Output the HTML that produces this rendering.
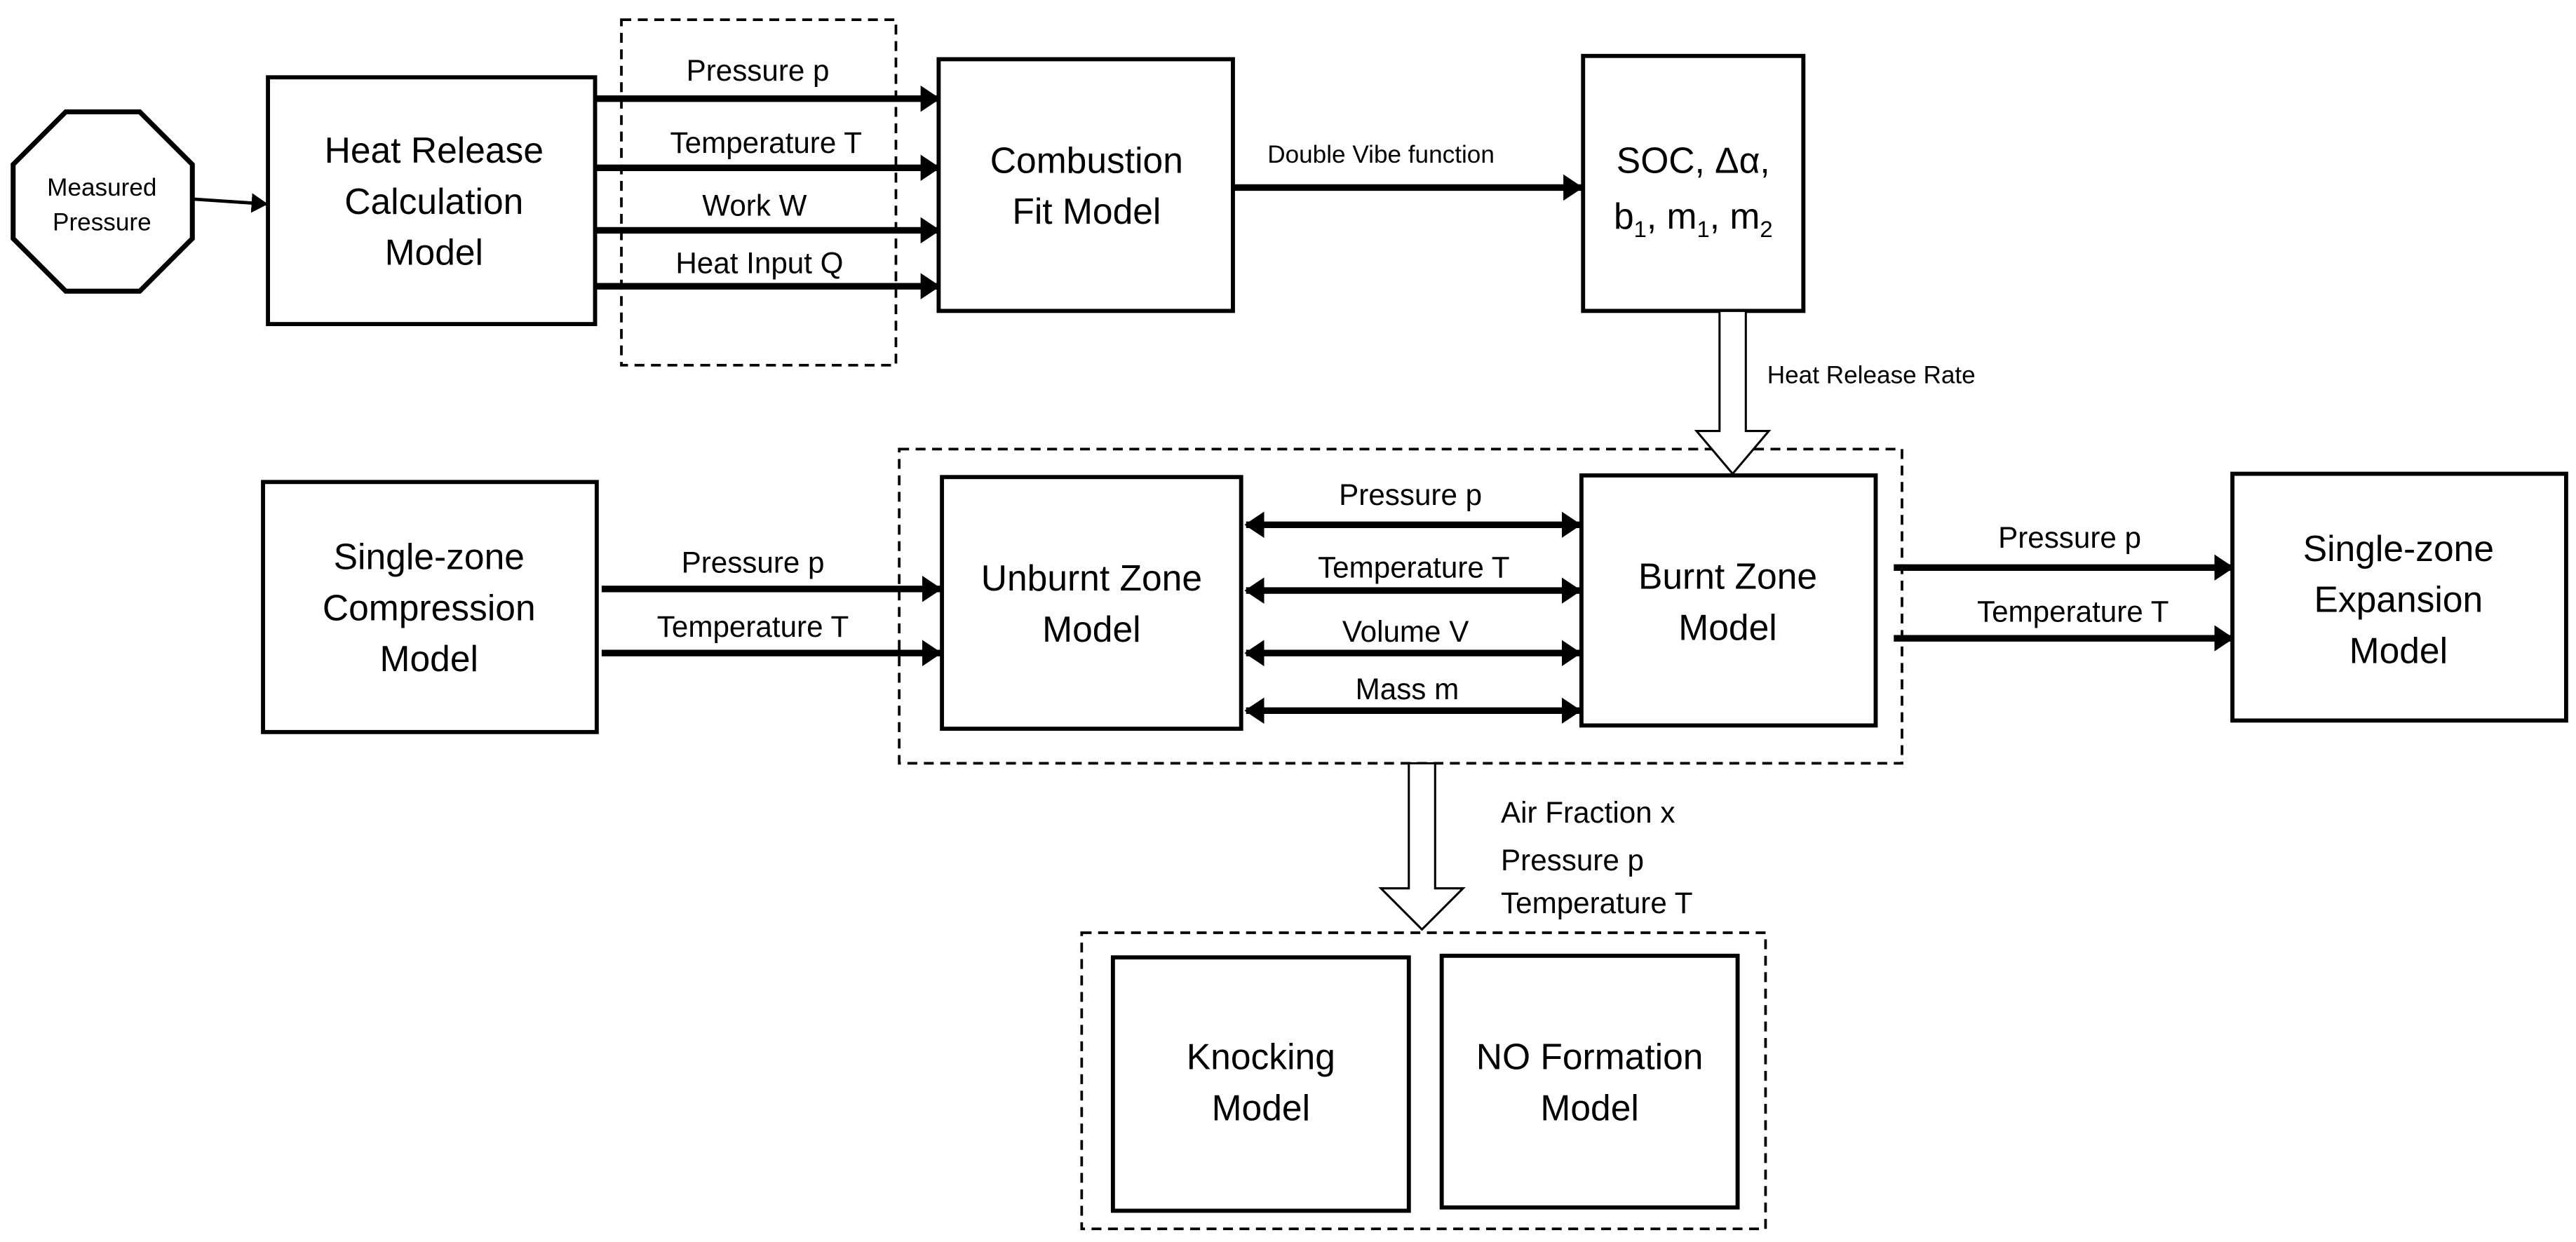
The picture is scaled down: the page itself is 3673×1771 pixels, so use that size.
<!DOCTYPE html>
<html><head><meta charset="utf-8"><style>
html,body{margin:0;padding:0;background:#fff;}
svg{display:block;}
text{font-family:"Liberation Sans Narrow","Liberation Sans",sans-serif;fill:#000;}
</style></head><body>
<svg width="3673" height="1771" viewBox="0 0 1567 755" preserveAspectRatio="none" xmlns="http://www.w3.org/2000/svg">
<defs>
<marker id="a" markerWidth="10" markerHeight="12" refX="9" refY="6" orient="auto" markerUnits="userSpaceOnUse" viewBox="0 0 10 12"><path d="M0,0 L10,6 L0,12 z"/></marker>
<marker id="b" markerWidth="12" markerHeight="16" refX="11" refY="8" orient="auto-start-reverse" markerUnits="userSpaceOnUse" viewBox="0 0 12 16"><path d="M0,0 L12,8 L0,16 z"/></marker>
</defs>
<g fill="none" stroke="#000">
<polygon points="40,68 85,68 117,100 117,145 85,177 40,177 8,145 8,100" stroke-width="3"/>
<line x1="117" y1="121" x2="162" y2="124" stroke-width="2" marker-end="url(#a)"/>
<rect x="163" y="47" width="199" height="150" stroke-width="2.5"/>
<rect x="378" y="12" width="167" height="210" stroke-width="1.6" stroke-dasharray="6,4"/>
<rect x="571" y="36" width="179" height="153" stroke-width="2.5"/>
<rect x="963" y="34" width="134" height="155" stroke-width="2.5"/>
<rect x="547" y="273" width="610" height="191" stroke-width="1.6" stroke-dasharray="6,4"/>
<rect x="160" y="293" width="203" height="152" stroke-width="2.5"/>
<rect x="573" y="290" width="182" height="153" stroke-width="2.5"/>
<rect x="962" y="289" width="179" height="152" stroke-width="2.5"/>
<rect x="1358" y="288" width="203" height="150" stroke-width="2.5"/>
<rect x="658" y="567" width="416" height="180" stroke-width="1.6" stroke-dasharray="6,4"/>
<rect x="677" y="582" width="180" height="154" stroke-width="2.5"/>
<rect x="877" y="581" width="180" height="153" stroke-width="2.5"/>
<g stroke-width="4">
<line x1="362" y1="60" x2="571" y2="60" marker-end="url(#b)"/>
<line x1="362" y1="102" x2="571" y2="102" marker-end="url(#b)"/>
<line x1="362" y1="140" x2="571" y2="140" marker-end="url(#b)"/>
<line x1="362" y1="174" x2="571" y2="174" marker-end="url(#b)"/>
<line x1="750" y1="114" x2="962" y2="114" marker-end="url(#b)"/>
<line x1="366" y1="358" x2="572" y2="358" marker-end="url(#b)"/>
<line x1="366" y1="397" x2="572" y2="397" marker-end="url(#b)"/>
<line x1="758" y1="319" x2="961" y2="319" marker-start="url(#b)" marker-end="url(#b)"/>
<line x1="758" y1="359" x2="961" y2="359" marker-start="url(#b)" marker-end="url(#b)"/>
<line x1="758" y1="397" x2="961" y2="397" marker-start="url(#b)" marker-end="url(#b)"/>
<line x1="758" y1="432" x2="961" y2="432" marker-start="url(#b)" marker-end="url(#b)"/>
<line x1="1152" y1="345" x2="1358" y2="345" marker-end="url(#b)"/>
<line x1="1152" y1="388" x2="1358" y2="388" marker-end="url(#b)"/>
</g>
<polygon points="1046,189 1062,189 1062,262 1076,262 1054,288 1032,262 1046,262" fill="#fff" stroke-width="1.3"/>
<polygon points="857,464 873,464 873,540 890,540 865,565 840,540 857,540" fill="#fff" stroke-width="1.3"/>
</g>
<g text-anchor="middle" font-size="22">
<text x="62" y="119" font-size="15">Measured</text>
<text x="62" y="140" font-size="15">Pressure</text>
<text x="264" y="99">Heat Release</text>
<text x="264" y="130">Calculation</text>
<text x="264" y="161">Model</text>
<text x="661" y="105">Combustion</text>
<text x="661" y="136">Fit Model</text>
<text x="1030" y="105">SOC, Δα,</text>
<text x="1030" y="139">b<tspan font-size="14" dy="5">1</tspan><tspan dy="-5">, m</tspan><tspan font-size="14" dy="5">1</tspan><tspan dy="-5">, m</tspan><tspan font-size="14" dy="5">2</tspan></text>
<text x="261" y="346">Single-zone</text>
<text x="261" y="377">Compression</text>
<text x="261" y="408">Model</text>
<text x="664" y="359">Unburnt Zone</text>
<text x="664" y="390">Model</text>
<text x="1051" y="358">Burnt Zone</text>
<text x="1051" y="389">Model</text>
<text x="1459" y="341">Single-zone</text>
<text x="1459" y="372">Expansion</text>
<text x="1459" y="403">Model</text>
<text x="767" y="650">Knocking</text>
<text x="767" y="681">Model</text>
<text x="967" y="650">NO Formation</text>
<text x="967" y="681">Model</text>
</g>
<g text-anchor="middle" font-size="18">
<text x="461" y="49">Pressure p</text>
<text x="466" y="93">Temperature T</text>
<text x="459" y="131">Work  W</text>
<text x="462" y="166">Heat Input  Q</text>
<text x="458" y="348">Pressure p</text>
<text x="458" y="387">Temperature T</text>
<text x="858" y="307">Pressure p</text>
<text x="860" y="351">Temperature T</text>
<text x="855" y="390">Volume  V</text>
<text x="856" y="425">Mass m</text>
<text x="1259" y="333">Pressure p</text>
<text x="1261" y="378">Temperature T</text>
</g>
<g font-size="15">
<text x="771" y="99">Double Vibe function</text>
<text x="1075" y="233">Heat Release Rate</text>
</g>
<g font-size="18">
<text x="913" y="500">Air Fraction x</text>
<text x="913" y="529">Pressure p</text>
<text x="913" y="555">Temperature T</text>
</g>
</svg>
</body></html>
